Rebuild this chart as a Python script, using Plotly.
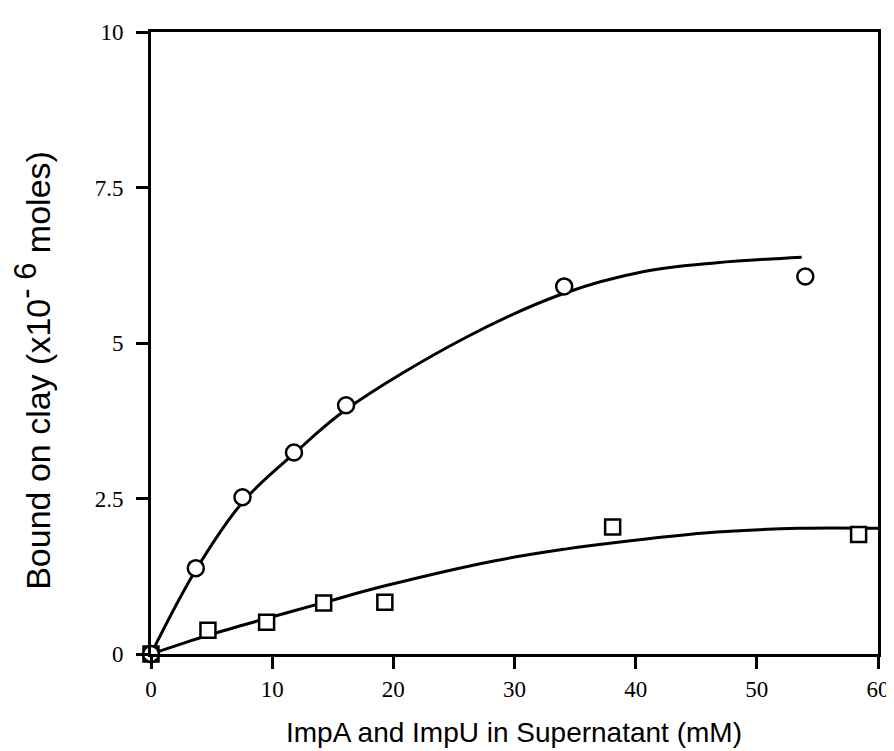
import plotly.graph_objects as go

circle_x = [0, 3.7, 7.55, 11.8, 16.1, 34.1, 54.0]
circle_y = [0, 1.38, 2.52, 3.24, 4.0, 5.91, 6.07]

square_x = [0, 4.7, 9.54, 14.25, 19.3, 38.1, 58.4]
square_y = [0, 0.38, 0.51, 0.82, 0.83, 2.04, 1.92]

# Fitted curves as drawn in the picture
circle_fit_x = [0, 3.7, 7.6, 11.8, 16.1, 25.9, 34.1, 40.7, 46.7, 53.7]
circle_fit_y = [0, 1.35, 2.45, 3.22, 3.93, 5.08, 5.80, 6.15, 6.29, 6.38]

square_fit_x = [0, 4.7, 9.5, 14.3, 19.4, 28.4, 34.3, 38.2, 46.7, 53.5, 60]
square_fit_y = [0, 0.30, 0.57, 0.83, 1.10, 1.50, 1.69, 1.79, 1.96, 2.02, 2.02]

x_ticks = [0, 10, 20, 30, 40, 50, 60]
y_ticks = [0, 2.5, 5, 7.5, 10]
y_tick_labels = ["0", "2.5", "5", "7.5", "10"]

fig = go.Figure()

fig.add_trace(go.Scatter(x=circle_fit_x, y=circle_fit_y, mode="lines",
                         line=dict(color="black", width=3, shape="spline", smoothing=1.0),
                         hoverinfo="skip", showlegend=False))
fig.add_trace(go.Scatter(x=square_fit_x, y=square_fit_y, mode="lines",
                         line=dict(color="black", width=3, shape="spline", smoothing=1.0),
                         hoverinfo="skip", showlegend=False))
fig.add_trace(go.Scatter(x=square_x, y=square_y, mode="markers", cliponaxis=False,
                         marker=dict(symbol="square", size=15, color="white",
                                     line=dict(color="black", width=2.5)),
                         showlegend=False))
fig.add_trace(go.Scatter(x=circle_x, y=circle_y, mode="markers", cliponaxis=False,
                         marker=dict(symbol="circle", size=16, color="white",
                                     line=dict(color="black", width=2.5)),
                         showlegend=False))

axis_common = dict(showline=True, linecolor="black", linewidth=3, mirror=True,
                   ticks="outside", ticklen=12, tickwidth=2.5, tickcolor="black",
                   showgrid=False, zeroline=False,
                   tickfont=dict(family="Liberation Serif", size=23, color="black"))

fig.update_xaxes(range=[0, 60], tickvals=x_ticks, **axis_common)
fig.update_yaxes(range=[0, 10], tickvals=y_ticks, ticktext=y_tick_labels,
                 ticklabelstandoff=8, **axis_common)

fig.add_annotation(text="ImpA and ImpU in Supernatant (mM)", xref="paper", yref="paper",
                   x=0.499, y=-0.127, showarrow=False, xanchor="center", yanchor="middle",
                   font=dict(family="Liberation Sans", size=28, color="black"))
fig.add_annotation(text="Bound on clay (x10<sup><span style='font-size:31px'>- 6</span></sup> moles)",
                   xref="paper", yref="paper",
                   x=-0.163, y=0.456, showarrow=False, textangle=-90,
                   xanchor="center", yanchor="middle",
                   font=dict(family="Liberation Sans", size=34, color="black"))

fig.update_layout(width=894, height=751, plot_bgcolor="white", paper_bgcolor="white",
                  margin=dict(l=143, r=16, t=23, b=105))

fig.write_html("out.html")
